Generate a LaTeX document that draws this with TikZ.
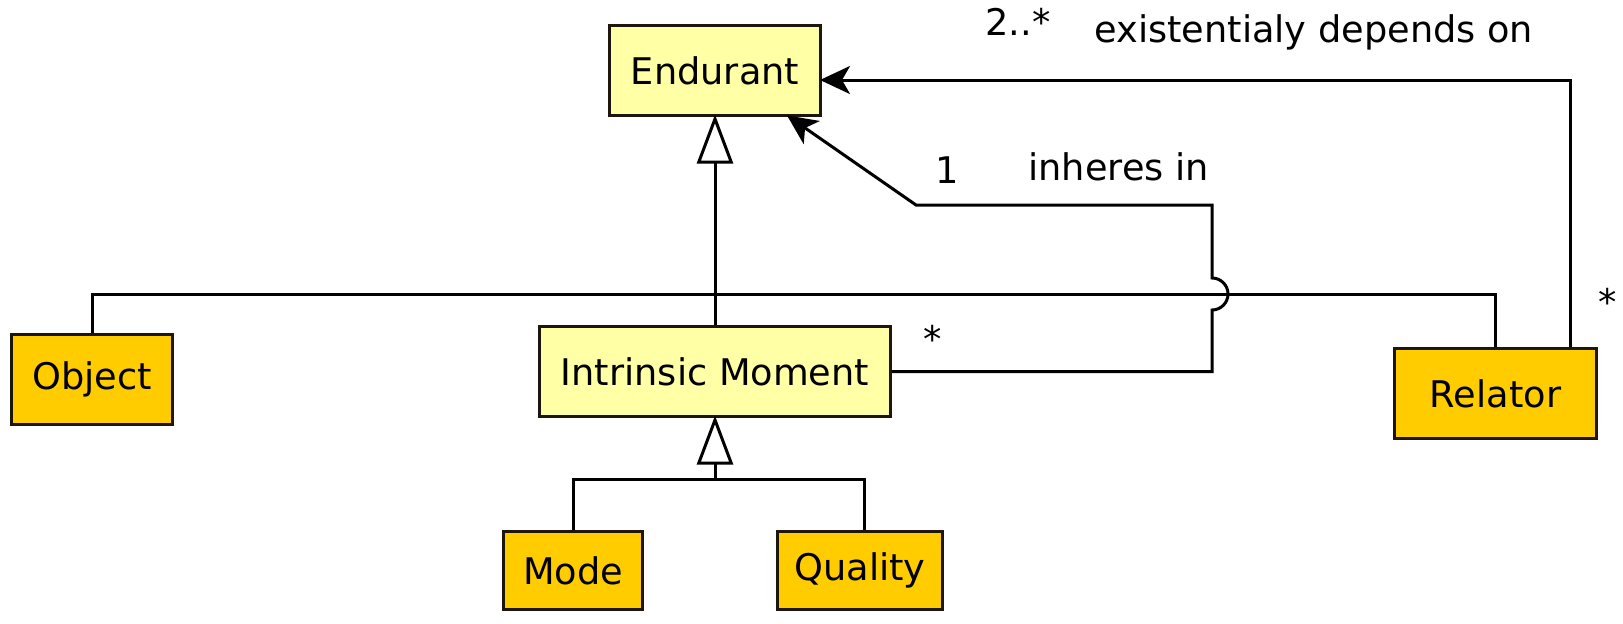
\documentclass[tikz,border=0pt]{standalone}
\usepackage{fontspec}
\setmainfont{DejaVu Sans}
\usetikzlibrary{arrows.meta}
\definecolor{lightyel}{RGB}{255,255,166}
\definecolor{gold}{RGB}{255,204,0}
\definecolor{edge}{RGB}{30,22,12}
\begin{document}
\begin{tikzpicture}[x=0.5pt,y=-0.5pt, font=\fontsize{18.35}{22}\selectfont,
  box/.style={draw=edge, line width=1.5pt, inner sep=0pt, minimum height=45pt},
  core/.style={box, fill=lightyel},
  leaf/.style={box, fill=gold},
  conn/.style={draw=black, line width=1.5pt},
  gen/.style={conn, -{Triangle[open, length=24.5pt, width=18pt, fill=white]}},
  assoc/.style={conn, -{Stealth[length=15pt, width=14pt, inset=4pt]}},
  lbl/.style={inner sep=0pt}]
\useasboundingbox (0,0) rectangle (1623,623);
\fill[white] (0,0) rectangle (1623,623);

\node[core, minimum width=105.5pt] (end) at (715,70.5) {Endurant};
\node[core, minimum width=175.5pt] (im) at (715,371.5) {Intrinsic Moment};
\node[leaf, minimum width=80.5pt] (obj) at (92,379.5) {Object};
\node[leaf, minimum width=101pt] (rel) at (1495.5,393.5) {Relator};
\node[leaf, minimum width=69.5pt, minimum height=39pt] (mode) at (573,570.5) {Mode};
\node[leaf, minimum width=82.5pt, minimum height=39pt] (qual) at (860,570.5) {Quality};

% Object -- Relator association
\coordinate (ortop) at (715,294);
\draw[conn] (obj.north) |- (ortop) -| (rel.north);

% generalizations
\draw[gen] (im.north) -- ([yshift=1.2pt]end.south);
\coordinate (br) at (715,479);
\draw[conn] ([xshift=2pt]qual.north) |- (br);
\draw[gen] (mode.north) |- (br) -- ([yshift=1.2pt]im.south);

% inheres in
\draw[assoc] (im.east) -- (1212,371.5) -- (1212,310)
  arc[start angle=-90, end angle=90, radius=8pt] -- (1212,205) -- (916,205)
  -- ([xshift=-17.5pt,yshift=0.8pt]end.south east);

% existentially depends on
\draw[assoc] ([xshift=-13.75pt]rel.north east) |- ([xshift=-1pt,yshift=-4.75pt]end.east);

% labels
\node[lbl, anchor=base west] (m1) at (985,35) {2..*};
\node[lbl, anchor=base west] (l1) at (1094,42) {existentialy depends on};
\node[lbl, anchor=base] (m2) at (947,183) {1};
\node[lbl, anchor=base west] (l2) at (1028,180) {inheres in};
\node[lbl, anchor=base] (m3) at (933,352) {*};
\node[lbl, anchor=base] (m4) at (1608,315) {*};
\end{tikzpicture}
\end{document}
